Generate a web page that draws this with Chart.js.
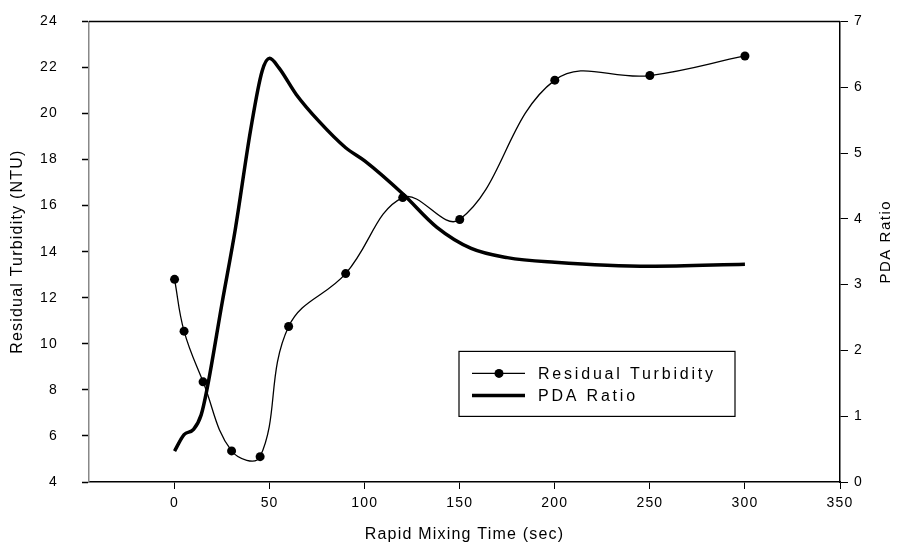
<!DOCTYPE html>
<html>
<head>
<meta charset="utf-8">
<script src="https://cdn.jsdelivr.net/npm/chart.js@4.4.1/dist/chart.umd.min.js"></script>
<style>
  html, body { margin: 0; padding: 0; background: #fff; overflow: hidden; }
  #wrap { width: 908px; height: 560px; margin-top: -11px; }
</style>
</head>
<body>
<div id="wrap"><canvas id="myChart"></canvas></div>
<script>
// residual turbidity measurements
const mixingTime = [0, 5, 15, 30, 45, 60, 90, 120, 150, 200, 250, 300];
const residualTurbidity = [12.8, 10.55, 8.35, 5.35, 5.1, 10.75, 13.05, 16.35, 15.4, 21.45, 21.65, 22.5];

// PDA ratio curve
const pdaTime = [0, 5, 10, 14, 17, 25, 32, 40, 46, 50, 55, 64, 76, 90, 100, 120, 138, 156, 175, 200, 250, 300];
const pdaRatio = [0.47, 0.72, 0.8, 1.02, 1.4, 2.72, 3.85, 5.35, 6.24, 6.44, 6.29, 5.89, 5.48, 5.08, 4.88, 4.38, 3.87, 3.55, 3.41, 3.34, 3.28, 3.31];

const xTicks = [0, 50, 100, 150, 200, 250, 300, 350];
const turbTicks = [4, 6, 8, 10, 12, 14, 16, 18, 20, 22, 24];
const pdaTicks = [0, 1, 2, 3, 4, 5, 6, 7];

const FONT = "'Liberation Sans', Arial, sans-serif";

function toPoints(xs, ys) {
    return xs.map((x, i) => ({ x: x, y: ys[i] }));
}

// letter spacing like the scanned original
const spacing = {
    id: 'spacing',
    beforeDraw(chart) {
        chart.ctx.letterSpacing = '1.2px';
    }
};

// top frame line, right axis title and the boxed legend
const extras = {
    id: 'extras',
    afterDraw(chart) {
        const ctx = chart.ctx;
        const a = chart.chartArea;
        ctx.save();
        ctx.strokeStyle = '#000';
        ctx.lineWidth = 1.5;
        ctx.beginPath();
        ctx.moveTo(a.left, a.top);
        ctx.lineTo(a.right, a.top);
        ctx.stroke();

        // right axis title, reads bottom to top
        ctx.translate(886, (a.top + a.bottom) / 2 - 10);
        ctx.rotate(-Math.PI / 2);
        ctx.fillStyle = '#000';
        ctx.font = '15px ' + FONT;
        ctx.letterSpacing = '1.5px';
        ctx.textAlign = 'center';
        ctx.textBaseline = 'middle';
        ctx.fillText('PDA Ratio', 0, 0);
        ctx.restore();

        // legend
        const bx = a.left + 370, by = a.top + 330, bw = 276, bh = 65;
        ctx.save();
        ctx.strokeStyle = '#000';
        ctx.lineWidth = 1.2;
        ctx.strokeRect(bx, by, bw, bh);
        ctx.font = '16px ' + FONT;
        ctx.letterSpacing = '2.8px';
        ctx.fillStyle = '#000';
        ctx.textAlign = 'left';
        ctx.textBaseline = 'middle';
        chart.data.datasets.forEach((ds, i) => {
            const ly = by + 22 + i * 22;
            ctx.beginPath();
            ctx.lineWidth = ds.borderWidth;
            ctx.moveTo(bx + 13, ly);
            ctx.lineTo(bx + 66, ly);
            ctx.stroke();
            if (ds.pointRadius > 0) {
                ctx.beginPath();
                ctx.arc(bx + 40, ly, ds.pointRadius, 0, Math.PI * 2);
                ctx.fill();
            }
            ctx.fillText(ds.label, bx + 79, ly + 1);
        });
        ctx.restore();
    }
};

const ctx = document.getElementById('myChart').getContext('2d');

new Chart(ctx, {
    type: 'line',
    data: {
        datasets: [
            {
                label: 'Residual Turbidity',
                data: toPoints(mixingTime, residualTurbidity),
                yAxisID: 'y',
                borderColor: '#000',
                backgroundColor: '#000',
                borderWidth: 1.3,
                pointRadius: 4.5,
                pointBorderWidth: 0,
                pointBackgroundColor: '#000',
                tension: 0.4
            },
            {
                label: 'PDA Ratio',
                data: toPoints(pdaTime, pdaRatio),
                yAxisID: 'y1',
                borderColor: '#000',
                borderWidth: 3.5,
                pointRadius: 0,
                cubicInterpolationMode: 'monotone'
            }
        ]
    },
    options: {
        responsive: true,
        maintainAspectRatio: false,
        animation: false,
        layout: { padding: { top: 10, left: 0, right: 0, bottom: 0 } },
        plugins: {
            legend: { display: false },
            tooltip: { enabled: false }
        },
        scales: {
            x: {
                type: 'linear',
                min: -45,
                max: 350,
                afterBuildTicks: scale => { scale.ticks = xTicks.map(v => ({ value: v })); },
                afterFit: scale => { scale.height = 67; },
                grid: { drawOnChartArea: false, tickLength: 7, tickColor: '#000', tickWidth: 1 },
                border: { color: '#000', width: 1.5 },
                ticks: { color: '#000', font: { family: FONT, size: 14 }, padding: 6, maxRotation: 0 },
                title: {
                    display: true,
                    text: 'Rapid Mixing Time (sec)',
                    color: '#000',
                    font: { family: FONT, size: 16 },
                    padding: { top: 0, bottom: 5 }
                }
            },
            y: {
                position: 'left',
                min: 4,
                max: 24,
                afterBuildTicks: scale => { scale.ticks = turbTicks.map(v => ({ value: v })); },
                afterFit: scale => { scale.width = 89; },
                grid: { drawOnChartArea: false, tickLength: 7, tickColor: '#000', tickWidth: 1.5 },
                border: { color: '#888', width: 1.5 },
                ticks: { color: '#000', font: { family: FONT, size: 14 }, padding: 24 },
                title: {
                    display: true,
                    text: 'Residual Turbidity (NTU)',
                    color: '#000',
                    font: { family: FONT, size: 16 },
                    padding: { top: 8, bottom: 0 }
                }
            },
            y1: {
                position: 'right',
                min: 0,
                max: 7,
                afterBuildTicks: scale => { scale.ticks = pdaTicks.map(v => ({ value: v })); },
                afterFit: scale => { scale.width = 68; },
                grid: { drawOnChartArea: false, tickLength: 8, tickColor: '#000', tickWidth: 1 },
                border: { color: '#000', width: 1.5 },
                ticks: { color: '#000', font: { family: FONT, size: 14 }, padding: 6 }
            }
        }
    },
    plugins: [spacing, extras]
});
</script>
</body>
</html>
